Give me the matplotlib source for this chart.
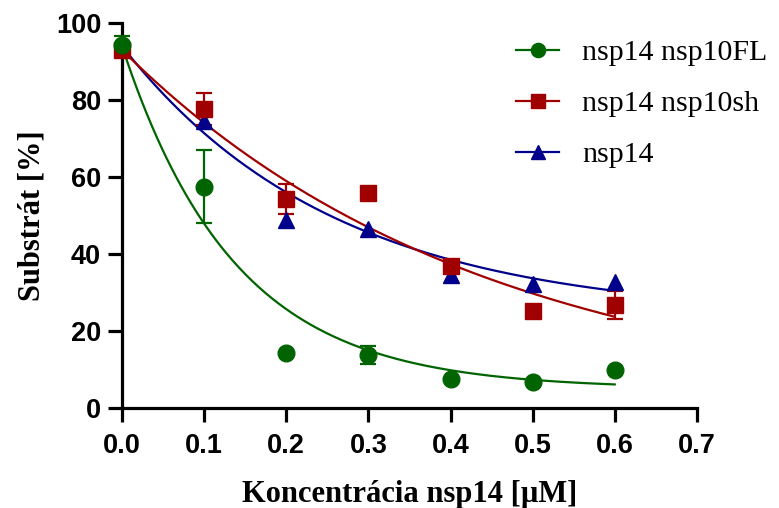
import numpy as np
import matplotlib
matplotlib.use("Agg")
import matplotlib.pyplot as plt

# ---- data ----
x_conc = [0.0, 0.1, 0.2, 0.3, 0.4, 0.5, 0.6]

fl_mean = [94.3, 57.5, 14.3, 13.8, 7.5, 6.8, 9.9]
fl_err = [2.2, 9.5, 0.0, 2.3, 0.0, 0.0, 0.0]

sh_mean = [93.0, 77.7, 54.2, 55.9, 37.0, 25.2, 26.8]
sh_err = [1.5, 4.2, 3.9, 1.2, 0.0, 0.0, 3.7]

n14_mean = [94.0, 74.4, 48.8, 46.6, 34.6, 32.3, 32.7]
n14_err = [0.0, 1.5, 0.0, 0.0, 0.0, 0.0, 0.0]

# one-phase exponential decay fit parameters: (Y0, plateau, K)
fl_fit = (94.0, 5.0, 7.3)
sh_fit = (93.0, 0.0, 2.28)
n14_fit = (94.0, 23.5, 3.87)

labels = ["nsp14 nsp10FL", "nsp14 nsp10sh", "nsp14"]
xticks = [0.0, 0.1, 0.2, 0.3, 0.4, 0.5, 0.6, 0.7]
yticks = [0, 20, 40, 60, 80, 100]

green = "#006400"
red = "#A00000"
blue = "#00008B"

fig = plt.figure(figsize=(7.79, 5.08), dpi=100)
ax = fig.add_axes([0.1566, 0.1969, 0.738, 0.758])

xf = np.linspace(0, 0.6, 300)

def decay(p, x):
    y0, plat, k = p
    return plat + (y0 - plat) * np.exp(-k * x)

series = [
    (n14_mean, n14_err, n14_fit, blue, "^", 12, labels[2]),
    (sh_mean, sh_err, sh_fit, red, "s", 11.5, labels[1]),
    (fl_mean, fl_err, fl_fit, green, "o", 12, labels[0]),
]

handles = {}
for mean, err, fit, col, mk, ms, lab in series:
    ax.plot(xf, decay(fit, xf), color=col, lw=1.6, zorder=2, clip_on=False)
    e = np.array(err)
    xs = np.array(x_conc)
    m = np.array(mean)
    sel = e > 0
    ax.errorbar(xs[sel], m[sel], yerr=e[sel], fmt="none", ecolor=col,
                elinewidth=1.6, capsize=6, capthick=1.6, zorder=3, clip_on=False)
    ax.plot(xs, m, linestyle="none", marker=mk, ms=ms, color=col,
            markeredgecolor=col, zorder=4, clip_on=False)
    h, = ax.plot([], [], color=col, lw=1.6, marker=mk, ms=ms * 0.85,
                 markeredgecolor=col)
    handles[lab] = h

ax.set_xlim(0, 0.7)
ax.set_ylim(0, 100)
ax.set_xticks(xticks)
ax.set_yticks(yticks)
ax.set_xticklabels([f"{t:.1f}" for t in xticks])
ax.set_yticklabels([str(t) for t in yticks])

for s in ["top", "right"]:
    ax.spines[s].set_visible(False)
for s in ["left", "bottom"]:
    ax.spines[s].set_linewidth(2.3)
    ax.spines[s].set_capstyle("projecting")

ax.tick_params(axis="both", direction="out", length=10, width=2.3)
ax.tick_params(axis="x", pad=8)
ax.tick_params(axis="y", pad=5)
for lbl in ax.get_xticklabels() + ax.get_yticklabels():
    lbl.set_fontfamily("Liberation Sans")
    lbl.set_fontweight("bold")
    lbl.set_fontsize(19.5)

ax.set_xlabel("Koncentrácia nsp14 [µM]", family="Liberation Serif",
              fontweight="bold", fontsize=22, labelpad=15)
ax.set_ylabel("Substrát [%]", family="Liberation Serif",
              fontweight="bold", fontsize=22, labelpad=7)

leg = fig.legend([handles[l] for l in labels], labels,
                 loc="upper left", bbox_to_anchor=(0.628, 0.975),
                 frameon=False, prop={"family": "Liberation Serif", "size": 21.5},
                 handlelength=1.45, handletextpad=0.75, labelspacing=0.8)

fig.savefig("out.png", dpi=100)
